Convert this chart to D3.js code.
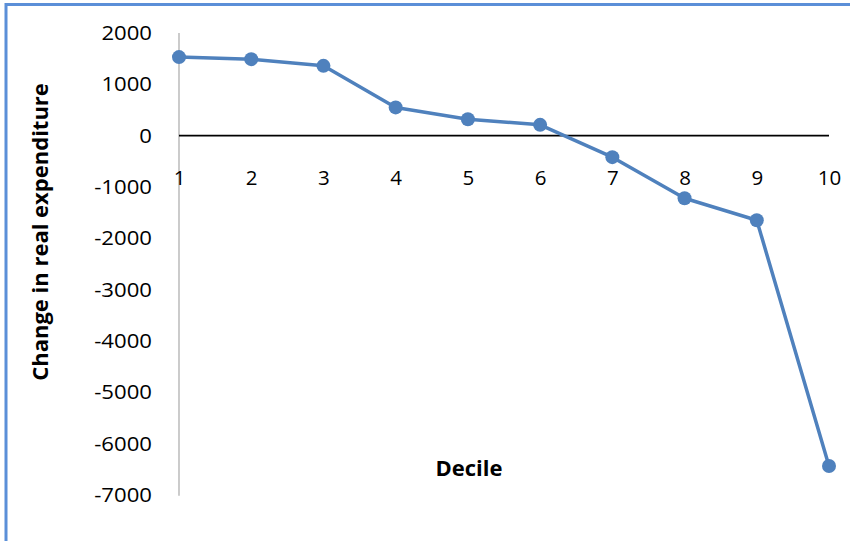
<!DOCTYPE html>
<html><head><meta charset="utf-8">
<script src="https://cdn.jsdelivr.net/npm/d3@7"></script>
<style>html,body{margin:0;padding:0;background:#fff;}svg{display:block;}</style>
</head><body>
<script>
const deciles = [1,2,3,4,5,6,7,8,9,10];
const changeValues = [1530,1490,1360,550,320,210,-420,-1220,-1650,-6440];
const yTicks = [2000,1000,0,-1000,-2000,-3000,-4000,-5000,-6000,-7000];
const yTitle = "Change in real expenditure";
const xTitle = "Decile";

const W = 850, H = 541;
const svg = d3.select("body").append("svg").attr("width", W).attr("height", H);
const font = "'Open Sans', 'Noto Sans', sans-serif";

// frame (cropped)
svg.append("rect").attr("x",6).attr("y",4.5).attr("width",W+20).attr("height",H+20)
  .attr("fill","none").attr("stroke","#5b8fd8").attr("stroke-width",3);

const x = d3.scalePoint().domain(deciles).range([179, 829]);
const y = d3.scaleLinear().domain([-7000, 2000]).range([494.8, 33]);

// y axis line (gray)
svg.append("line").attr("x1",179).attr("x2",179).attr("y1",y(2000)).attr("y2",y(-7000)+1)
  .attr("stroke","#bfbfbf").attr("stroke-width",1.6);

// y tick labels
const yAxis = d3.axisLeft(y).tickValues(yTicks).tickSize(0).tickPadding(27).tickFormat(d => String(d));
const gy = svg.append("g").attr("transform","translate(179,0)").call(yAxis);
gy.select(".domain").remove();
gy.selectAll("text").attr("font-family",font).attr("font-size","20.5px").attr("fill","#000")
  .attr("transform","scale(1.08,1)").attr("x", -27/1.08);

// zero line with x tick labels below
const xAxis = d3.axisBottom(x).tickSize(0).tickPadding(35);
const gx = svg.append("g").attr("transform",`translate(0,${y(0)})`).call(xAxis);
gx.select(".domain").attr("stroke","#000").attr("stroke-width",1.6).attr("d", `M${x(1)},0H${x(10)}`);
gx.selectAll("text").attr("font-family",font).attr("font-size","20.5px").attr("fill","#000");

// line
const line = d3.line().x((d,i)=>x(deciles[i])).y(d=>y(d));
svg.append("path").datum(changeValues).attr("d",line).attr("fill","none")
  .attr("stroke","#4f81bd").attr("stroke-width",3.5).attr("stroke-linejoin","round");
svg.selectAll("circle.pt").data(changeValues).enter().append("circle").attr("class","pt")
  .attr("cx",(d,i)=>x(deciles[i])).attr("cy",d=>y(d)).attr("r",7).attr("fill","#4f81bd");

// titles
svg.append("text").attr("transform","translate(48,232) rotate(-90)").attr("text-anchor","middle")
  .attr("font-family",font).attr("font-weight","bold").attr("font-size","22px").text(yTitle);
svg.append("text").attr("x",469).attr("y",476).attr("text-anchor","middle")
  .attr("font-family",font).attr("font-weight","bold").attr("font-size","22px").text(xTitle);
</script>
</body></html>
